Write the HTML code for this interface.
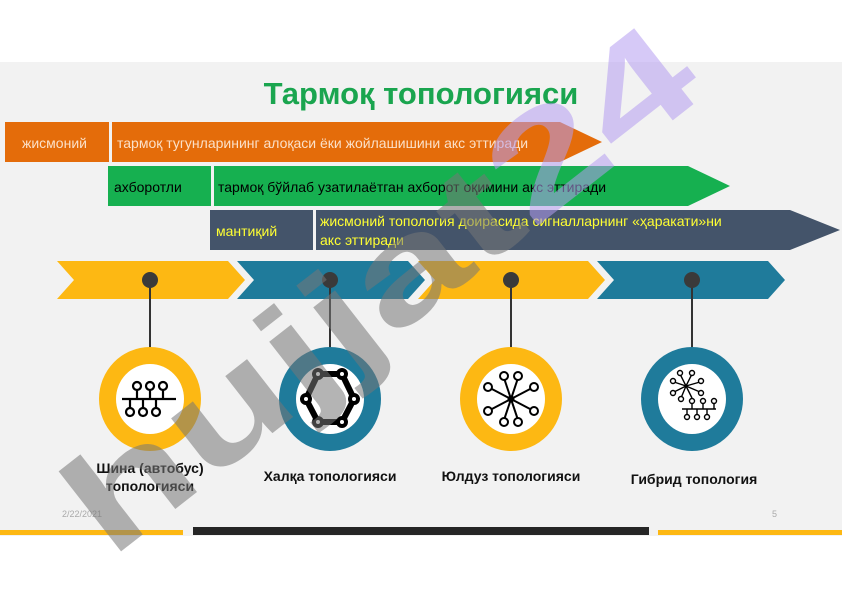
<!DOCTYPE html>
<html><head><meta charset="utf-8"><style>
body{margin:0;width:842px;height:596px;overflow:hidden;background:#fff;font-family:"Liberation Sans",sans-serif;position:relative}
.abs{position:absolute}
</style></head><body>
<svg class="abs" style="left:0;top:0" width="842" height="596" xmlns="http://www.w3.org/2000/svg">
<rect x="0" y="62" width="842" height="474" fill="#f2f2f2"/>
<text x="421" y="104" text-anchor="middle" font-family="Liberation Sans" font-weight="bold" font-size="31" fill="#1aa54f">Тармоқ топологияси</text>
<rect x="5" y="122" width="104" height="40" fill="#e46c0a"/>
<polygon points="112,122 560,122 602,142 560,162 112,162" fill="#e46c0a"/>
<text x="22" y="148" font-size="14" fill="#fbe0c8" font-family="Liberation Sans">жисмоний</text>
<text x="117" y="148" font-size="14" fill="#fbe0c8" font-family="Liberation Sans">тармоқ тугунларининг алоқаси ёки жойлашишини акс эттиради</text>
<rect x="108" y="166" width="103" height="40" fill="#16b050"/>
<polygon points="214,166 688,166 730,186 688,206 214,206" fill="#16b050"/>
<text x="114" y="192" font-size="14" fill="#000" font-family="Liberation Sans">ахборотли</text>
<text x="218" y="192" font-size="14" fill="#000" font-family="Liberation Sans">тармоқ бўйлаб узатилаётган ахборот оқимини акс эттиради</text>
<rect x="210" y="210" width="103" height="40" fill="#44546a"/>
<polygon points="316,210 790,210 840,230 790,250 316,250" fill="#44546a"/>
<text x="216" y="236" font-size="14" fill="#ffff33" font-family="Liberation Sans">мантиқий</text>
<text x="320" y="226" font-size="14" fill="#ffff33" font-family="Liberation Sans">жисмоний топология доирасида сигналларнинг «ҳаракати»ни</text>
<text x="320" y="245" font-size="14" fill="#ffff33" font-family="Liberation Sans">акс эттиради</text>
<polygon points="57,261 228,261 245,280 228,299 57,299 74,280" fill="#fdb813"/>
<polygon points="237,261 408,261 425,280 408,299 237,299 254,280" fill="#1f7b9b"/>
<polygon points="418,261 588,261 605,280 588,299 418,299 435,280" fill="#fdb813"/>
<polygon points="597,261 768,261 785,280 768,299 597,299 614,280" fill="#1f7b9b"/>
<g stroke="#333" stroke-width="2">
<line x1="150" y1="280" x2="150" y2="350"/><line x1="330" y1="280" x2="330" y2="350"/>
<line x1="511" y1="280" x2="511" y2="350"/><line x1="692" y1="280" x2="692" y2="350"/></g>
<g fill="#3a3a3a"><circle cx="150" cy="280" r="8"/><circle cx="330" cy="280" r="8"/><circle cx="511" cy="280" r="8"/><circle cx="692" cy="280" r="8"/></g>
<ellipse cx="150" cy="399" rx="51" ry="52" fill="#fdb813"/><ellipse cx="150" cy="399" rx="34" ry="35" fill="#fff"/>
<ellipse cx="330" cy="399" rx="51" ry="52" fill="#1f7b9b"/><ellipse cx="330" cy="399" rx="34" ry="35" fill="#fff"/>
<ellipse cx="511" cy="399" rx="51" ry="52" fill="#fdb813"/><ellipse cx="511" cy="399" rx="34" ry="35" fill="#fff"/>
<ellipse cx="692" cy="399" rx="51" ry="52" fill="#1f7b9b"/><ellipse cx="692" cy="399" rx="34" ry="35" fill="#fff"/>
<g stroke="#000" stroke-width="2.2" fill="none">
<line x1="122" y1="399" x2="176" y2="399"/>
<circle cx="137" cy="386" r="4"/><circle cx="150" cy="386" r="4"/><circle cx="163" cy="386" r="4"/>
<line x1="137" y1="390" x2="137" y2="399"/><line x1="150" y1="390" x2="150" y2="399"/><line x1="163" y1="390" x2="163" y2="399"/>
<circle cx="130" cy="412" r="4"/><circle cx="143" cy="412" r="4"/><circle cx="156" cy="412" r="4"/>
<line x1="130" y1="399" x2="130" y2="408"/><line x1="143" y1="399" x2="143" y2="408"/><line x1="156" y1="399" x2="156" y2="408"/>
</g>
<polygon points="318,374 342,374 354,399 342,422 318,422 306,399" fill="none" stroke="#000" stroke-width="6"/>
<g fill="#000"><circle cx="318" cy="374" r="6"/><circle cx="342" cy="374" r="6"/><circle cx="354" cy="399" r="6"/><circle cx="342" cy="422" r="6"/><circle cx="318" cy="422" r="6"/><circle cx="306" cy="399" r="6"/></g>
<g fill="#fff"><circle cx="318" cy="374" r="2"/><circle cx="342" cy="374" r="2"/><circle cx="354" cy="399" r="2"/><circle cx="342" cy="422" r="2"/><circle cx="318" cy="422" r="2"/><circle cx="306" cy="399" r="2"/></g>
<g stroke="#000" stroke-width="2" fill="#fff">
<line x1="511" y1="399" x2="504" y2="378"/><line x1="511" y1="399" x2="518" y2="378"/><line x1="511" y1="399" x2="490" y2="388"/><line x1="511" y1="399" x2="532" y2="388"/>
<line x1="511" y1="399" x2="490" y2="410"/><line x1="511" y1="399" x2="532" y2="410"/><line x1="511" y1="399" x2="504" y2="420"/><line x1="511" y1="399" x2="518" y2="420"/>
<circle cx="504" cy="376" r="4"/><circle cx="518" cy="376" r="4"/><circle cx="488" cy="387" r="4"/><circle cx="534" cy="387" r="4"/>
<circle cx="488" cy="411" r="4"/><circle cx="534" cy="411" r="4"/><circle cx="504" cy="422" r="4"/><circle cx="518" cy="422" r="4"/>
<circle cx="511" cy="399" r="2.5" fill="#000"/></g>
<g stroke="#000" stroke-width="1.4" fill="#fff">
<line x1="686" y1="386" x2="680" y2="374"/><line x1="686" y1="386" x2="692" y2="374"/><line x1="686" y1="386" x2="674" y2="382"/><line x1="686" y1="386" x2="700" y2="382"/>
<line x1="686" y1="386" x2="674" y2="392"/><line x1="686" y1="386" x2="700" y2="392"/><line x1="686" y1="386" x2="681" y2="398"/><line x1="686" y1="386" x2="692" y2="398"/>
<circle cx="680" cy="373" r="2.5"/><circle cx="692" cy="373" r="2.5"/><circle cx="673" cy="381" r="2.5"/><circle cx="701" cy="381" r="2.5"/>
<circle cx="673" cy="393" r="2.5"/><circle cx="701" cy="393" r="2.5"/><circle cx="681" cy="399" r="2.5"/><circle cx="692" cy="401" r="2.5"/>
<line x1="682" y1="409" x2="716" y2="409"/>
<line x1="692" y1="404" x2="692" y2="409"/><line x1="703" y1="404" x2="703" y2="409"/><line x1="714" y1="404" x2="714" y2="409"/>
<circle cx="703" cy="401" r="2.5"/><circle cx="714" cy="401" r="2.5"/>
<line x1="687" y1="409" x2="687" y2="414"/><line x1="697" y1="409" x2="697" y2="414"/><line x1="707" y1="409" x2="707" y2="414"/>
<circle cx="687" cy="417" r="2.5"/><circle cx="697" cy="417" r="2.5"/><circle cx="707" cy="417" r="2.5"/>
</g>
<g font-family="Liberation Sans" font-weight="bold" font-size="14" fill="#111" text-anchor="middle">
<text x="150" y="473">Шина (автобус)</text><text x="150" y="491">топологияси</text>
<text x="330" y="481">Халқа топологияси</text>
<text x="511" y="481">Юлдуз топологияси</text>
<text x="694" y="484">Гибрид топология</text></g>
<text x="62" y="517" font-size="9" fill="#aaa" font-family="Liberation Sans">2/22/2021</text>
<text x="772" y="517" font-size="9" fill="#aaa" font-family="Liberation Sans">5</text>
<rect x="0" y="530" width="183" height="5" fill="#fdb813"/>
<rect x="193" y="527" width="456" height="8" fill="#262626"/>
<rect x="658" y="530" width="184" height="5" fill="#fdb813"/>
<g transform="translate(110,560) rotate(-38)">
<text x="0" y="0" font-family="Liberation Sans" font-weight="bold" font-size="140" textLength="760" lengthAdjust="spacingAndGlyphs" fill="#777" fill-opacity="0.55">hujjat<tspan fill="#b49df0" fill-opacity="0.55">24</tspan></text></g>
</svg>
</body></html>
